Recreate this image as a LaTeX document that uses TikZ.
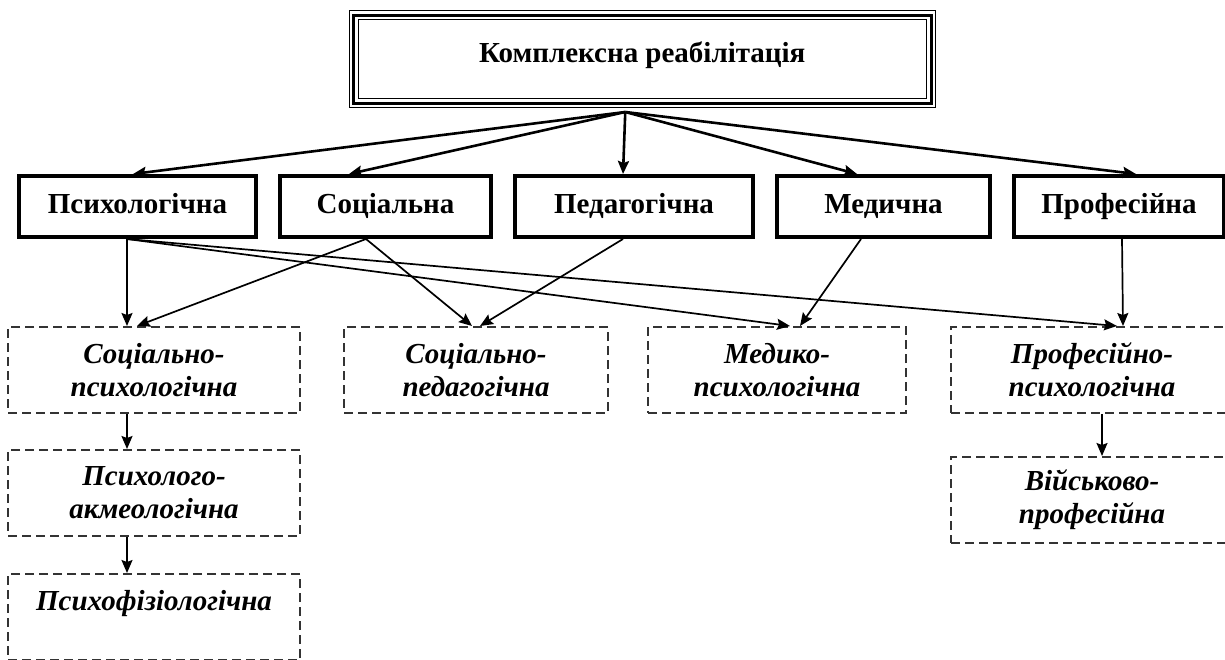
\documentclass[tikz,border=0pt]{standalone}
\usepackage{fontspec}
\setmainfont{Liberation Serif}
\usetikzlibrary{arrows.meta,positioning}

\begin{document}
\begin{tikzpicture}[
    x=0.5pt, y=-0.5pt,
    node distance=10pt,
    every node/.style={font=\fontsize{14.5}{16.5}\selectfont},
    complex/.style={rectangle, draw, line width=1.5pt, preaction={draw, line width=0.5pt, double, double distance=4pt}, minimum width=288.75pt, minimum height=44pt, text height=10pt, text depth=7pt, font=\fontsize{14.5}{16.5}\selectfont\bfseries},
    kind/.style={rectangle, draw, line width=2pt, minimum height=30.5pt, text height=10pt, text depth=3.5pt, font=\fontsize{14.5}{16.5}\selectfont\bfseries},
    subkind/.style={rectangle, draw=black!80, line width=1pt, dash pattern=on 4.5pt off 2.5pt, minimum height=43pt, align=center, font=\fontsize{14.5}{16.5}\selectfont\bfseries\itshape},
    arrow/.style={-{Stealth[length=6.5pt,width=5.5pt,inset=1pt]}, line width=1.3pt},
    link/.style={-{Stealth[length=6.5pt,width=5.5pt,inset=1pt]}, line width=0.85pt}
]
\useasboundingbox (0,0) rectangle (1225,659);

% Top level
\node[complex] (complex) at (642.25,59) {Комплексна реабілітація};
\coordinate (hub) at ([xshift=-8.5pt,yshift=-3.75pt]complex.south);

% Kinds of rehabilitation
\node[kind, minimum width=118.5pt] (psy) at (137.5,206.5) {Психологічна};
\node[kind, minimum width=105.5pt, right=of psy] (soc) {Соціальна};
\node[kind, minimum width=119pt, right=of soc] (ped) {Педагогічна};
\node[kind, minimum width=106.5pt, right=of ped] (med) {Медична};
\node[kind, minimum width=105pt, right=of med] (prof) {Професійна};

% Combined kinds
\node[subkind, minimum width=146pt] (socpsy) at (154,370) {Соціально-\\психологічна};
\node[subkind, minimum width=132pt, right=21pt of socpsy] (socped) {Соціально-\\педагогічна};
\node[subkind, minimum width=129pt, right=19pt of socped] (medpsy) {Медико-\\психологічна};
\node[subkind, minimum width=141pt, right=21.5pt of medpsy] (profpsy) {Професійно-\\психологічна};

\node[subkind, minimum width=146pt, below=17.5pt of socpsy] (acme) {Психолого-\\акмеологічна};
\node[subkind, minimum width=146pt, below=18pt of acme] (physio) {Психофізіологічна\\\mbox{}};
\node[subkind, minimum width=141pt, below=21pt of profpsy] (mil) {Військово-\\професійна};

% Connections from the top
\draw[arrow] (hub) -- ([xshift=-2.25pt]psy.north);
\draw[arrow] (hub) -- ([xshift=-18.25pt]soc.north);
\draw[arrow] (hub) -- ([xshift=-5.5pt]ped.north);
\draw[arrow] (hub) -- ([xshift=-13.25pt]med.north);
\draw[arrow] (hub) -- ([xshift=8.5pt]prof.north);

% Connections to combined kinds
\draw[link] ([xshift=-5.25pt]psy.south) -- ([xshift=-13.5pt]socpsy.north);
\draw[link] ([xshift=-5.25pt]psy.south) -- ([xshift=6.5pt]medpsy.north);
\draw[link] ([xshift=-5.25pt]psy.south) -- ([xshift=12.5pt]profpsy.north);
\draw[link] ([xshift=-9.75pt]soc.south) -- ([xshift=-8.5pt]socpsy.north);
\draw[link] ([xshift=-9.75pt]soc.south) -- ([xshift=-2pt]socped.north);
\draw[link] ([xshift=-5.5pt]ped.south) -- ([xshift=2pt]socped.north);
\draw[link] ([xshift=-11.25pt]med.south) -- ([xshift=11.5pt]medpsy.north);
\draw[link] ([xshift=1.5pt]prof.south) -- ([xshift=15.5pt]profpsy.north);

% Chains below
\draw[link] ([xshift=-13.5pt]socpsy.south) -- ([xshift=-13.5pt]acme.north);
\draw[link] ([xshift=-13.5pt]acme.south) -- ([xshift=-13.5pt]physio.north);
\draw[link] ([xshift=5pt]profpsy.south) -- ([xshift=5pt]mil.north);

\end{tikzpicture}
\end{document}
